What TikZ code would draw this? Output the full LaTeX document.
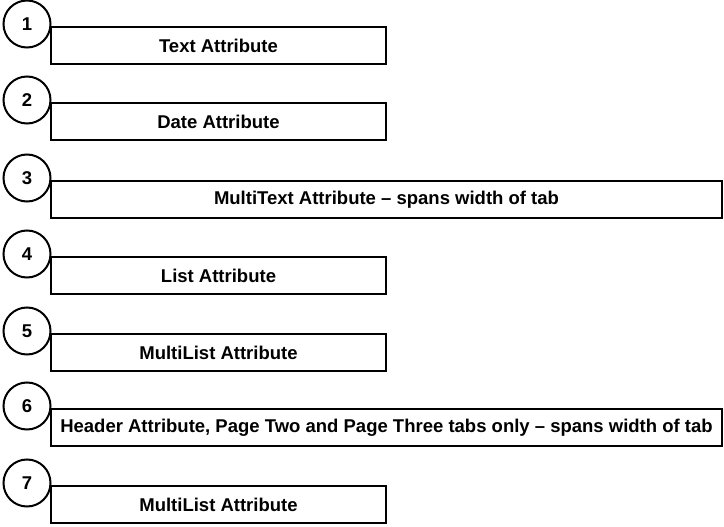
\documentclass[tikz,border=0pt]{standalone}
\usepackage{fontspec}
\setmainfont{Liberation Sans}
\begin{document}
\begin{tikzpicture}[x=1pt,y=-1pt,
  box/.style={draw,line width=2pt,anchor=north west,minimum height=37pt,inner sep=0pt,font=\fontsize{18.5}{22}\selectfont\bfseries},
  num/.style={draw,circle,fill=white,line width=2pt,minimum size=47pt,inner sep=0pt,font=\fontsize{18.5}{22}\selectfont\bfseries}]
\useasboundingbox (0,0) rectangle (724,527);
\foreach \i/\y/\w/\t in {1/26/335/Text Attribute,2/102/335/Date Attribute,3/180/671/MultiText Attribute -- spans width of tab,4/256/335/List Attribute,5/333/335/MultiList Attribute,6/408/671/{Header Attribute, Page Two and Page Three tabs only -- spans width of tab},7/485/335/MultiList Attribute}{
  \node[box,minimum width=\w pt] (b\i) at (50,\y) {\t};
  \node[num] (c\i) at (27,\y-2) {\i};
}
\end{tikzpicture}
\end{document}
